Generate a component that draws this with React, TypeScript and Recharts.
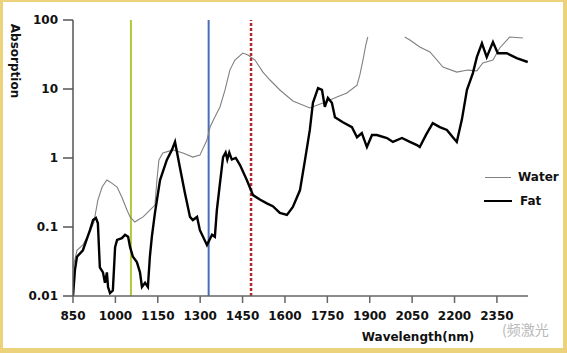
import { LineChart, Line, XAxis, YAxis, ReferenceLine } from "recharts";

// wavelength (nm) / absorption
const FAT_WL = [
  850, 857, 864, 885, 910, 921, 931, 938, 945, 956, 963, 970, 974, 981, 991, 999, 1006, 1023, 1034, 1045,
  1052, 1062, 1076, 1087, 1094, 1105, 1115, 1122, 1129, 1140, 1158, 1182, 1200, 1211, 1228, 1246, 1264,
  1274, 1289, 1299, 1324, 1342, 1352, 1359, 1370, 1381, 1390, 1396, 1403, 1412, 1426, 1441, 1465, 1487,
  1511, 1536, 1557, 1582, 1607, 1628, 1653, 1671, 1688, 1699, 1717, 1731, 1741, 1752, 1766, 1777, 1805,
  1837, 1855, 1872, 1890, 1908, 1925, 1961, 1982, 2014, 2042, 2067, 2077, 2100, 2123, 2148, 2173, 2194,
  2208, 2226, 2244, 2265, 2279, 2297, 2314, 2336, 2353, 2385, 2420, 2459,
];
const FAT_ABS = [
  0.01, 0.024, 0.037, 0.046, 0.09, 0.126, 0.135, 0.114, 0.026, 0.022, 0.0155, 0.022, 0.0135, 0.011, 0.012,
  0.051, 0.065, 0.069, 0.077, 0.072, 0.051, 0.037, 0.031, 0.022, 0.0135, 0.0155, 0.0135, 0.037, 0.072,
  0.16, 0.48, 0.94, 1.31, 1.71, 0.74, 0.31, 0.14, 0.126, 0.14, 0.09, 0.055, 0.077, 0.072, 0.176, 0.43,
  1.03, 1.2, 0.95, 1.2, 0.95, 1.0, 0.79, 0.48, 0.29, 0.25, 0.22, 0.2, 0.16, 0.15, 0.195, 0.34, 0.94, 2.55,
  6.3, 10.3, 9.7, 5.5, 7.4, 6.3, 3.9, 3.3, 2.8, 2.0, 2.3, 1.44, 2.15, 2.15, 1.95, 1.71, 1.95, 1.71, 1.54,
  1.44, 2.2, 3.2, 2.8, 2.55, 2.0, 1.71, 3.6, 9.7, 17, 29, 46, 29, 48, 33, 33, 28, 24.6,
];

const WATER_WL = [
  850, 864, 885, 910, 924, 938, 953, 970, 981, 1006, 1023, 1041, 1052, 1069, 1080, 1098, 1122, 1140, 1147,
  1154, 1168, 1204, 1239, 1274, 1299, 1324, 1335, 1352, 1370, 1388, 1405, 1423, 1451, 1469, 1494, 1522,
  1547, 1582, 1628, 1688, 1734, 1784, 1819, 1855, 1865, 1876, 1886, 1893,
];
const WATER_ABS = [
  0.0255, 0.046, 0.055, 0.085, 0.118, 0.246, 0.38, 0.48, 0.45, 0.38, 0.27, 0.176, 0.14, 0.118, 0.126,
  0.14, 0.176, 0.208, 0.48, 0.94, 1.18, 1.31, 1.18, 1.03, 1.1, 1.82, 2.81, 3.93, 5.48, 9.68, 18.8, 26.3,
  33.2, 31.1, 26.3, 17.6, 13.5, 9.68, 6.7, 5.3, 6.27, 7.66, 8.75, 11.4, 16, 26.3, 43.4, 56.7,
];
// second water segment after the gap
const WATER2_WL = [2024, 2042, 2077, 2113, 2159, 2208, 2247, 2279, 2300, 2336, 2360, 2395, 2442];
const WATER2_ABS = [56.7, 51.3, 40.6, 34.4, 20.8, 17.6, 18.8, 18.3, 23.8, 26.3, 39.3, 56.7, 54.8];

const X_TICKS = [850, 1000, 1150, 1300, 1450, 1600, 1750, 1900, 2050, 2200, 2350];
const Y_TICKS = [0.01, 0.1, 1, 10, 100];

const zip = (xs: number[], ys: number[]) => xs.map((wl, i) => ({ wl, v: ys[i] }));

const fatData = zip(FAT_WL, FAT_ABS);
const waterData = zip(WATER_WL, WATER_ABS);
const water2Data = zip(WATER2_WL, WATER2_ABS);

const FONT = "'DejaVu Sans', Verdana, sans-serif";
const tickStyle = { fill: "#111", fontSize: 12, fontWeight: 700, fontFamily: FONT };

export default function App() {
  return (
    <div style={{ position: "absolute", left: 0, top: 0, width: 567, height: 353, background: "#fff", fontFamily: FONT }}>
      <LineChart
        width={567}
        height={353}
        margin={{ top: 20, right: 39, bottom: 27, left: 0 }}
      >
        <XAxis
          type="number"
          dataKey="wl"
          domain={[850, 2460]}
          ticks={X_TICKS}
          allowDataOverflow
          height={30}
          tickSize={7}
          tickMargin={8}
          stroke="#666"
          strokeWidth={1.5}
          tick={tickStyle}
        />
        <YAxis
          type="number"
          dataKey="v"
          scale="log"
          domain={[0.01, 100]}
          ticks={Y_TICKS}
          allowDataOverflow
          width={73}
          tickSize={10}
          tickMargin={5}
          stroke="#555"
          strokeWidth={1.5}
          tick={tickStyle}
          tickFormatter={(v: number) => String(v)}
        />
        <ReferenceLine x={1055} stroke="#AFC93A" strokeWidth={2} />
        <ReferenceLine x={1330} stroke="#4A6DB8" strokeWidth={2} />
        <ReferenceLine x={1480} stroke="#B0262A" strokeWidth={2.5} strokeDasharray="3 2" />
        <Line data={waterData} dataKey="v" type="linear" stroke="#808080" strokeWidth={1.1} dot={false} isAnimationActive={false} />
        <Line data={water2Data} dataKey="v" type="linear" stroke="#808080" strokeWidth={1.1} dot={false} isAnimationActive={false} />
        <Line data={fatData} dataKey="v" type="linear" stroke="#000" strokeWidth={2.4} dot={false} isAnimationActive={false} />
      </LineChart>

      {/* axis titles */}
      <div style={{ position: "absolute", left: 15, top: 61, transform: "translate(-50%, -50%) rotate(90deg)", fontSize: 12, fontWeight: 700, whiteSpace: "nowrap", color: "#111" }}>
        Absorption
      </div>
      <div style={{ position: "absolute", left: 418, top: 337, transform: "translate(-50%, -50%)", fontSize: 12, fontWeight: 700, whiteSpace: "nowrap", color: "#111" }}>
        Wavelength(nm)
      </div>

      {/* legend */}
      <div style={{ position: "absolute", left: 485, top: 170, display: "flex", alignItems: "center", fontSize: 12, fontWeight: 700, color: "#111" }}>
        <span style={{ width: 26, height: 1, background: "#808080", marginRight: 7 }} />
        Water
      </div>
      <div style={{ position: "absolute", left: 484, top: 194, display: "flex", alignItems: "center", fontSize: 12, fontWeight: 700, color: "#111" }}>
        <span style={{ width: 28, height: 2, background: "#000", marginRight: 8 }} />
        Fat
      </div>

      {/* watermark */}
      <div style={{ position: "absolute", left: 502, top: 322, fontSize: 14, lineHeight: 1, color: "#b8b8b8", fontFamily: "'Noto Sans CJK SC', sans-serif", whiteSpace: "nowrap" }}>
        (频激光
      </div>

      {/* frame */}
      <div style={{ position: "absolute", inset: 0, boxSizing: "border-box", borderStyle: "solid", borderColor: "#EDD27C", borderWidth: "2px 4px 5px 3px", pointerEvents: "none" }} />
    </div>
  );
}
